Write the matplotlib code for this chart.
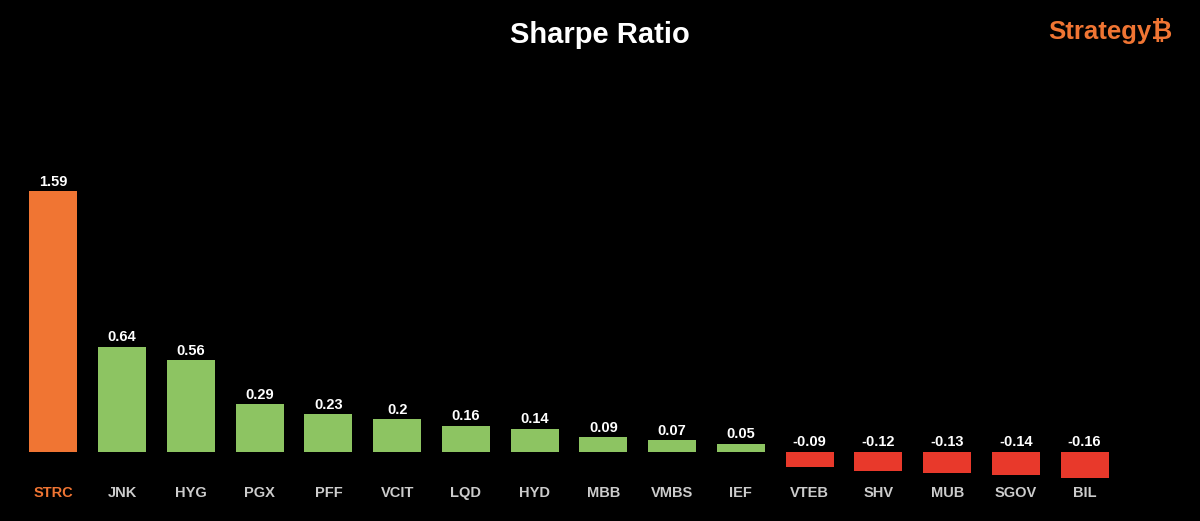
import matplotlib
matplotlib.use('Agg')
import matplotlib.pyplot as plt

plt.rcParams['font.family'] = ['Liberation Sans', 'Inter', 'Noto Sans', 'Roboto', 'DejaVu Sans']

tickers = ['STRC', 'JNK', 'HYG', 'PGX', 'PFF', 'VCIT', 'LQD', 'HYD', 'MBB',
           'VMBS', 'IEF', 'VTEB', 'SHV', 'MUB', 'SGOV', 'BIL']
sharpe = [1.59, 0.64, 0.56, 0.29, 0.23, 0.2, 0.16, 0.14, 0.09,
          0.07, 0.05, -0.09, -0.12, -0.13, -0.14, -0.16]
labels = ['1.59', '0.64', '0.56', '0.29', '0.23', '0.2', '0.16', '0.14', '0.09',
          '0.07', '0.05', '-0.09', '-0.12', '-0.13', '-0.14', '-0.16']

orange = '#F07533'
green = '#8DC462'
red = '#E8392B'

fig = plt.figure(figsize=(12, 5.21), dpi=100, facecolor='black')
ax = fig.add_axes([19/1200, 20/521, 1100/1200, 336/521])
ax.set_facecolor('black')

colors = []
for i, v in enumerate(sharpe):
    if i == 0:
        colors.append(orange)
    elif v >= 0:
        colors.append(green)
    else:
        colors.append(red)

x = range(len(tickers))
ax.bar(x, sharpe, width=0.7, color=colors)
for i, v in enumerate(sharpe):
    ax.text(i, max(v, 0) + 0.015, labels[i], ha='center', va='bottom',
            color='white', fontsize=10.5, fontweight='bold')
    ax.text(i, -0.25, tickers[i], ha='center', va='center',
            color=orange if i == 0 else '#cccccc', fontsize=10.5, fontweight='bold')

ax.set_xlim(-0.5, 15.5)
ax.set_ylim(-0.3, 1.75)
ax.axis('off')

fig.text(0.5, 0.933, 'Sharpe Ratio', ha='center', va='center', color='white',
         fontsize=21, fontweight='bold')
fig.text(0.977, 0.94, 'Strategy\u20bf', ha='right', va='center', color=orange,
         fontsize=18.5, fontweight='bold')

fig.savefig('out.png', facecolor='black')
